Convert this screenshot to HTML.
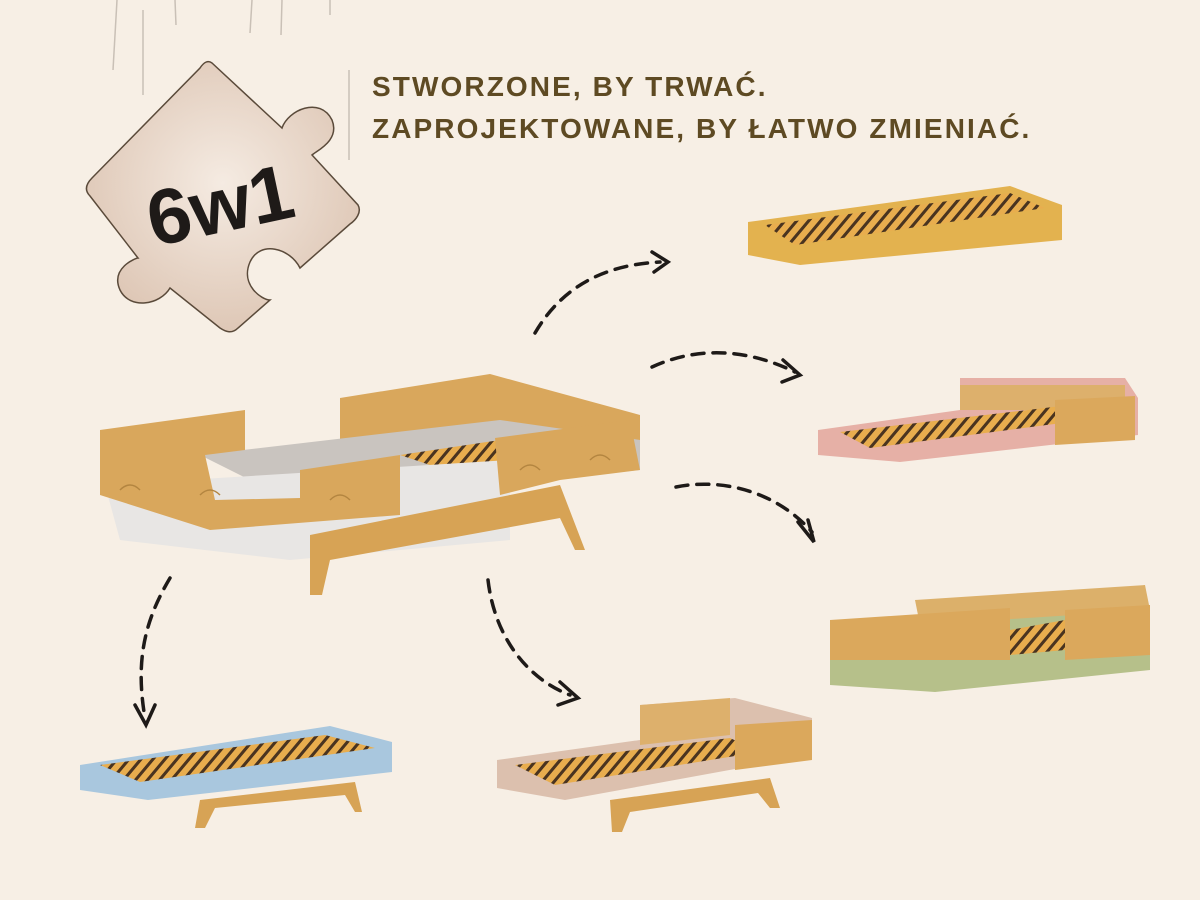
<!DOCTYPE html>
<html><head><meta charset="utf-8"><style>
html,body{margin:0;padding:0;background:#f7efe5;}
svg{display:block}
</style></head><body>
<svg width="1200" height="900" viewBox="0 0 1200 900" xmlns="http://www.w3.org/2000/svg">
<defs>
<radialGradient id="pz" cx="0.5" cy="0.45" r="0.6"><stop offset="0" stop-color="#f5ebe2"/><stop offset="1" stop-color="#dcc4b2"/></radialGradient>
<pattern id="slat" width="12" height="10" patternUnits="userSpaceOnUse" patternTransform="skewX(-40)"><rect width="12" height="10" fill="#4a3420"/><rect width="8" height="10" fill="#e8ad4e"/></pattern>
</defs>
<rect width="1200" height="900" fill="#f7efe5"/>
<g stroke="#c9c0b6" stroke-width="1.5">
<line x1="117" y1="0" x2="113" y2="70"/><line x1="143" y1="10" x2="143" y2="95"/><line x1="175" y1="0" x2="176" y2="25"/>
<line x1="252" y1="0" x2="250" y2="33"/><line x1="282" y1="0" x2="281" y2="35"/><line x1="330" y1="0" x2="330" y2="15"/>
<line x1="349" y1="70" x2="349" y2="160"/>
</g>
<path d="M212,63 L282,128 C288,110 320,96 332,120 C340,140 318,150 312,155 L358,205 C362,212 356,220 350,224 L300,268 C290,248 260,240 250,262 C240,285 262,300 270,300 L238,328 C232,334 226,332 220,328 L170,288 C160,305 130,310 120,290 C110,268 136,258 138,258 L90,196 C84,190 86,184 92,178 L200,68 C204,62 208,60 212,63 Z" fill="url(#pz)" stroke="#5a4a3a" stroke-width="1.5"/>
<text x="220" y="232" font-family="Liberation Sans, sans-serif" font-weight="bold" font-size="78" fill="#1e1a18" text-anchor="middle" transform="rotate(-12 220 205)">6w1</text>
<g font-family="Liberation Sans, sans-serif" font-weight="bold" font-size="28" fill="#5e4a23" letter-spacing="2.1">
<text x="372" y="96">STWORZONE, BY TRWAĆ.</text>
<text x="372" y="138">ZAPROJEKTOWANE, BY ŁATWO ZMIENIAĆ.</text>
</g>
<g fill="none" stroke="#1e1a18" stroke-width="3.5" stroke-dasharray="12 9" stroke-linecap="round">
<path d="M535,333 C560,290 600,265 660,262"/>
<path d="M652,367 C700,345 750,350 795,372"/>
<path d="M676,487 C720,478 775,490 812,532"/>
<path d="M170,578 C145,620 135,660 145,718"/>
<path d="M488,580 C495,640 530,680 570,695"/>
</g>
<g fill="none" stroke="#1e1a18" stroke-width="3.5" stroke-linecap="round">
<path d="M652,252 L668,262 L654,272"/>
<path d="M783,360 L800,375 L782,382"/>
<path d="M798,522 L814,542 L808,520"/>
<path d="M135,705 L146,725 L155,705"/>
<path d="M560,682 L578,698 L558,705"/>
</g>
<polygon points="748,222 1010,186 1062,205 1062,240 800,265 748,255" fill="#e3b24f"/>
<polygon points="765,225 1010,193 1045,208 795,245" fill="url(#slat)"/>
<polygon points="818,430 960,410 960,378 1125,378 1138,398 1138,435 900,462 818,455" fill="#e6b0a6"/>
<polygon points="960,385 1125,385 1125,410 960,410" fill="#ddb06c"/>
<polygon points="840,432 1070,405 1100,418 870,448" fill="url(#slat)"/>
<polygon points="1055,400 1135,396 1135,440 1055,445" fill="#dba85c"/>
<polygon points="830,625 1150,605 1150,670 935,692 830,685" fill="#b6c08a"/>
<polygon points="915,600 1145,585 1150,610 920,625" fill="#dcb06a"/>
<polygon points="830,620 1010,608 1010,660 830,660" fill="#dba85c"/>
<polygon points="1065,610 1150,605 1150,655 1065,660" fill="#dba85c"/>
<polygon points="1010,630 1065,620 1065,650 1010,655" fill="url(#slat)"/>
<polygon points="80,765 330,726 392,742 392,772 148,800 80,790" fill="#a9c7de"/>
<polygon points="100,765 325,735 375,748 140,782" fill="url(#slat)"/>
<polygon points="200,800 355,782 362,812 355,812 345,795 215,808 205,828 195,828" fill="#d7a355"/>
<polygon points="497,760 640,740 640,705 735,698 812,718 812,755 565,800 497,788" fill="#dcc0ae"/>
<polygon points="640,705 730,698 730,735 640,745" fill="#ddb06c"/>
<polygon points="515,765 730,738 760,752 555,785" fill="url(#slat)"/>
<polygon points="735,725 812,720 812,760 735,770" fill="#dba85c"/>
<polygon points="610,800 770,778 780,808 770,808 758,793 630,812 622,832 612,832" fill="#d7a355"/>
<polygon points="340,398 490,374 640,415 640,470 340,470" fill="#d9a75c"/>
<polygon points="200,455 500,420 640,440 640,470 300,505" fill="#c9c4bf"/>
<polygon points="400,455 500,440 560,455 460,475" fill="url(#slat)"/>
<polygon points="105,485 510,460 510,540 290,560 120,540" fill="#e8e6e4"/>
<polygon points="100,430 245,410 245,450 205,455 215,500 300,498 300,470 400,455 400,515 210,530 100,495" fill="#d9a75c"/>
<polygon points="495,438 630,420 640,470 560,480 500,495" fill="#d9a75c"/>
<polygon points="310,535 560,485 585,550 575,550 560,518 330,560 322,595 310,595" fill="#d7a355"/>
<g stroke="#b38540" stroke-width="1.5" fill="none">
<path d="M120,490 q10,-10 20,0 M200,495 q10,-10 20,0 M330,500 q10,-10 20,0 M520,470 q10,-10 20,0 M590,460 q10,-10 20,0"/>
</g>
</svg>
</body></html>
